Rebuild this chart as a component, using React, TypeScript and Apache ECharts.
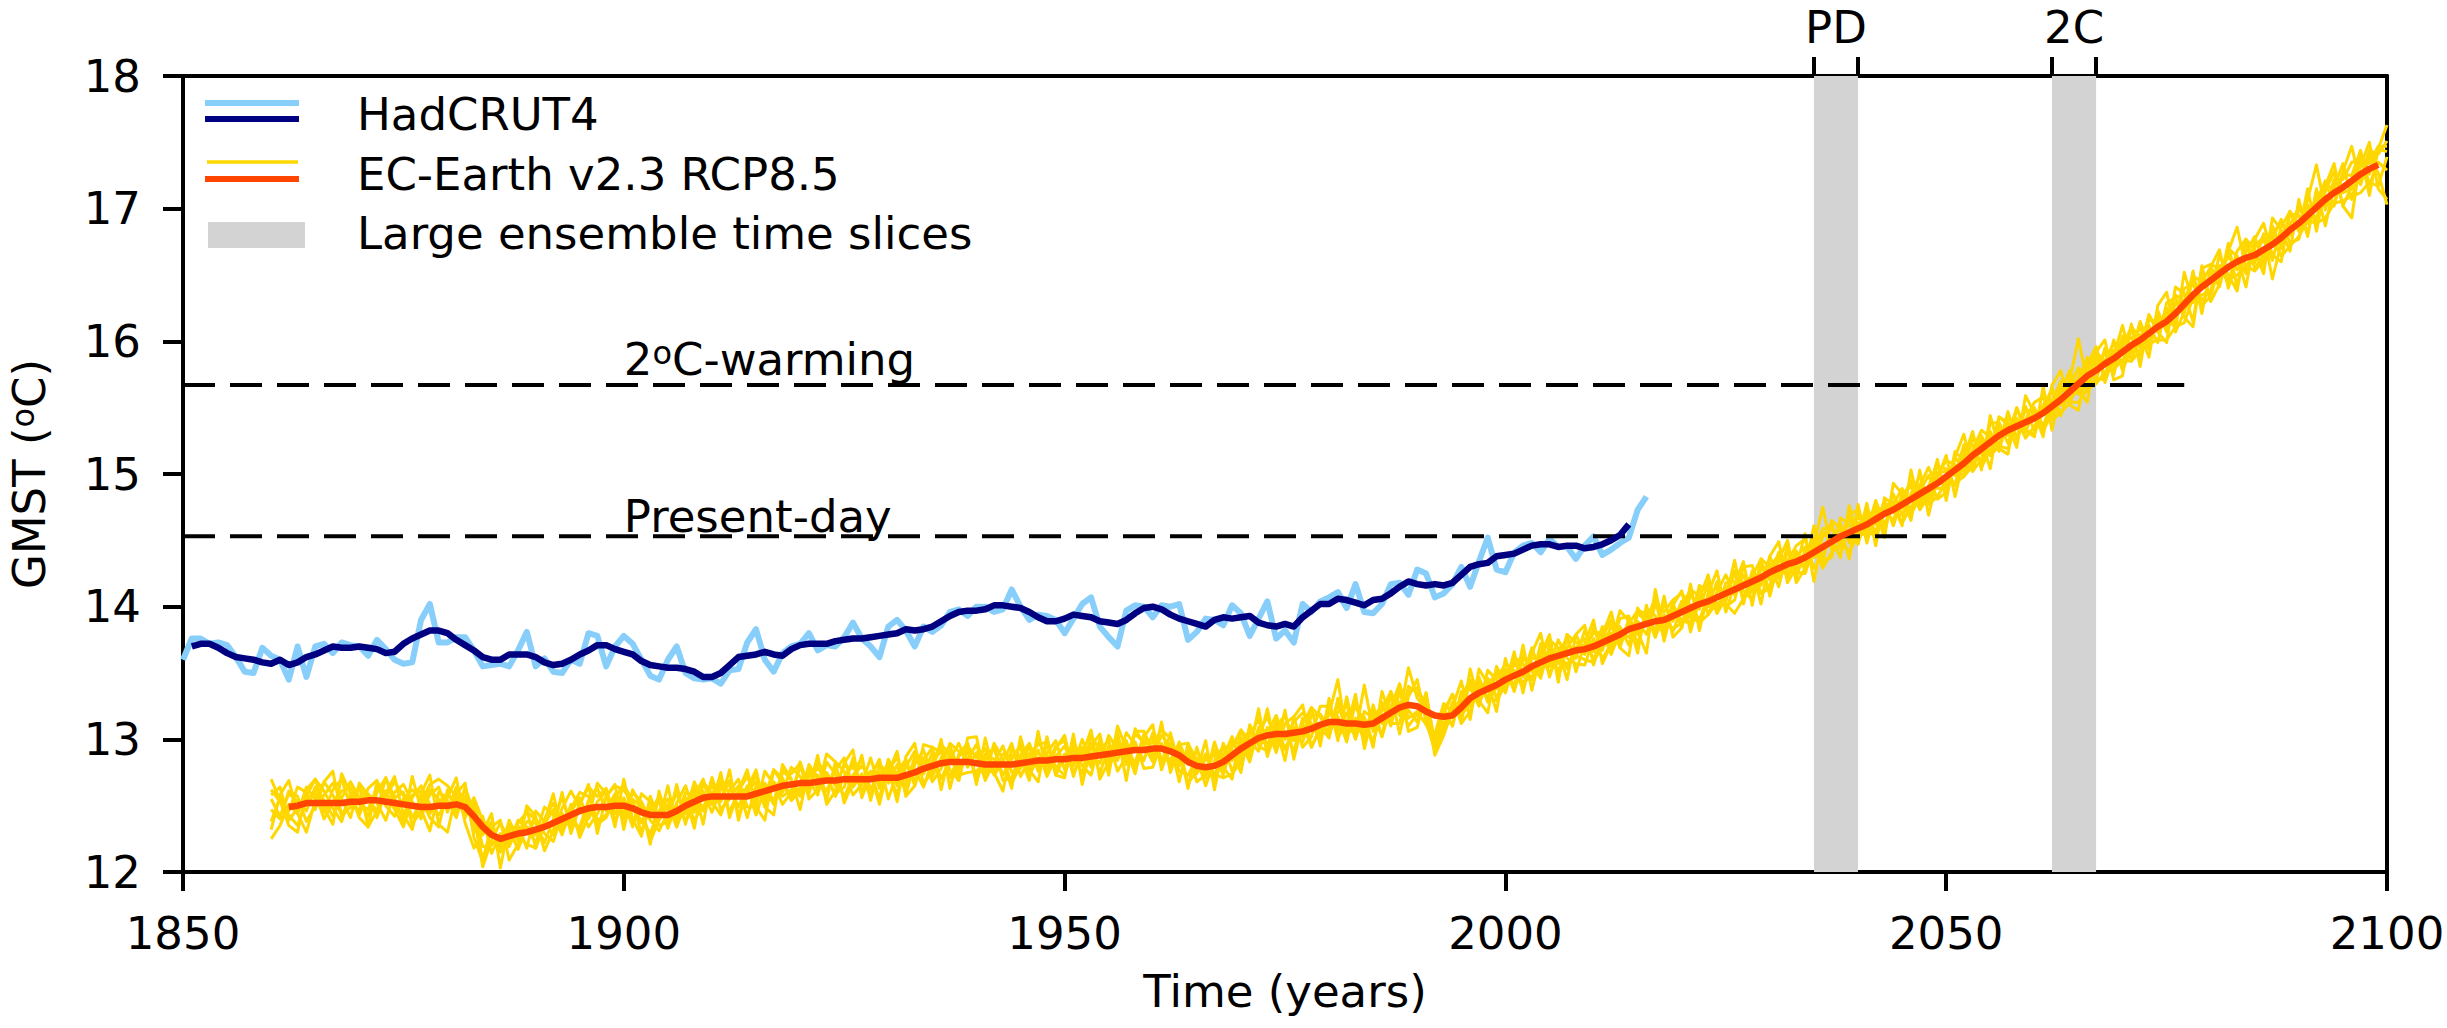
import { useEffect, useRef } from "react";
import * as echarts from "echarts";

const FONT = "DejaVu Sans";

// HadCRUT4 annual global-mean surface temperature (°C), one value per year from 1850
const hadcrutStart = 1850;
const hadcrutAnnual = [
  13.60, 13.76, 13.76, 13.72, 13.73, 13.71, 13.62, 13.51, 13.50, 13.69,
  13.63, 13.60, 13.45, 13.70, 13.47, 13.70, 13.72, 13.65, 13.73, 13.71,
  13.70, 13.63, 13.75, 13.68, 13.60, 13.57, 13.58, 13.90, 14.02, 13.73,
  13.73, 13.77, 13.77, 13.67, 13.55, 13.56, 13.57, 13.55, 13.67, 13.81,
  13.55, 13.61, 13.51, 13.50, 13.60, 13.57, 13.80, 13.78, 13.55, 13.70,
  13.78, 13.72, 13.60, 13.48, 13.45, 13.60, 13.70, 13.50, 13.46, 13.45,
  13.46, 13.42, 13.52, 13.53, 13.73, 13.83, 13.60, 13.51, 13.65, 13.70,
  13.72, 13.80, 13.67, 13.71, 13.70, 13.77, 13.88, 13.76, 13.70, 13.62,
  13.85, 13.90, 13.82, 13.70, 13.85, 13.81, 13.86, 13.96, 13.98, 13.93,
  14.00, 14.00, 13.96, 13.98, 14.13, 14.00, 13.90, 13.94, 13.93, 13.90,
  13.80, 13.91, 14.02, 14.07, 13.85, 13.77, 13.70, 13.97, 14.01, 14.00,
  13.92, 14.01, 14.00, 14.02, 13.75, 13.81, 13.91, 13.90, 13.86, 14.01,
  13.95, 13.78, 13.91, 14.04, 13.76, 13.82, 13.73, 14.02, 13.96, 14.04,
  14.07, 14.11, 13.99, 14.17, 13.96, 13.95, 14.02, 14.17, 14.18, 14.09,
  14.28, 14.25, 14.07, 14.10, 14.17, 14.30, 14.15, 14.34, 14.52, 14.28,
  14.26, 14.41, 14.46, 14.48, 14.41, 14.51, 14.45, 14.45, 14.36, 14.46,
  14.53, 14.39, 14.43, 14.48, 14.52, 14.73, 14.83,
];

// HadCRUT4 smoothed, from 1851
const hadcrutSmoothStart = 1851;
const hadcrutSmooth = [
  13.70, 13.72, 13.72, 13.69, 13.65, 13.62, 13.61, 13.60, 13.58,
  13.57, 13.60, 13.56, 13.58, 13.62, 13.64, 13.67, 13.70, 13.69, 13.69,
  13.70, 13.69, 13.68, 13.65, 13.66, 13.72, 13.76, 13.79, 13.82, 13.82,
  13.80, 13.75, 13.71, 13.67, 13.62, 13.60, 13.60, 13.64, 13.64, 13.64,
  13.62, 13.58, 13.56, 13.57, 13.60, 13.64, 13.67, 13.71, 13.71, 13.68,
  13.66, 13.64, 13.59, 13.56, 13.55, 13.54, 13.54, 13.53, 13.51, 13.47,
  13.47, 13.50, 13.56, 13.62, 13.63, 13.64, 13.66, 13.64, 13.63, 13.68,
  13.71, 13.72, 13.72, 13.72, 13.74, 13.75, 13.76, 13.76, 13.77, 13.78,
  13.79, 13.80, 13.83, 13.82, 13.83, 13.85, 13.89, 13.93, 13.96, 13.97,
  13.97, 13.98, 14.01, 14.01, 14.00, 13.99, 13.96, 13.92, 13.89, 13.89,
  13.91, 13.94, 13.93, 13.92, 13.89, 13.88, 13.87, 13.90, 13.95, 13.99,
  14.00, 13.98, 13.94, 13.91, 13.89, 13.87, 13.85, 13.90, 13.92, 13.91,
  13.92, 13.93, 13.88, 13.86, 13.85, 13.87, 13.85, 13.92, 13.97, 14.02,
  14.02, 14.06, 14.05, 14.03, 14.01, 14.05, 14.06, 14.10, 14.15, 14.19,
  14.17, 14.16, 14.17, 14.16, 14.18, 14.24, 14.30, 14.32, 14.33, 14.38,
  14.39, 14.40, 14.43, 14.46, 14.47, 14.47, 14.45, 14.46, 14.46, 14.44,
  14.45, 14.47, 14.50, 14.54, 14.62,
];

// EC-Earth v2.3 RCP8.5 ensemble mean, from 1862
const ecMeanStart = 1862;
const ecMean = [
  12.49, 12.50, 12.52, 12.52, 12.52, 12.52, 12.52, 12.53,
  12.53, 12.54, 12.54, 12.53, 12.52, 12.51, 12.50, 12.49, 12.49, 12.50,
  12.50, 12.51, 12.49, 12.42, 12.34, 12.28, 12.25, 12.27, 12.29, 12.30,
  12.32, 12.34, 12.37, 12.40, 12.43, 12.46, 12.48, 12.49, 12.49, 12.50,
  12.50, 12.48, 12.45, 12.43, 12.43, 12.43, 12.46, 12.50, 12.53, 12.56,
  12.57, 12.57, 12.57, 12.57, 12.57, 12.59, 12.61, 12.63, 12.65, 12.66,
  12.67, 12.67, 12.68, 12.69, 12.69, 12.70, 12.70, 12.70, 12.70, 12.71,
  12.71, 12.71, 12.73, 12.75, 12.78, 12.80, 12.82, 12.83, 12.83, 12.83,
  12.82, 12.81, 12.81, 12.81, 12.81, 12.82, 12.83, 12.84, 12.84, 12.85,
  12.85, 12.86, 12.86, 12.87, 12.88, 12.89, 12.90, 12.91, 12.92, 12.92,
  12.93, 12.93, 12.91, 12.88, 12.83, 12.80, 12.79, 12.80, 12.83, 12.88,
  12.93, 12.97, 13.01, 13.03, 13.04, 13.04, 13.05, 13.06, 13.08, 13.11,
  13.13, 13.13, 13.12, 13.12, 13.11, 13.12, 13.16, 13.20, 13.24, 13.26,
  13.25, 13.21, 13.18, 13.17, 13.18, 13.24, 13.31, 13.35, 13.38, 13.41,
  13.45, 13.48, 13.51, 13.55, 13.58, 13.61, 13.63, 13.65, 13.67, 13.68,
  13.70, 13.73, 13.76, 13.79, 13.83, 13.85, 13.87, 13.89, 13.90, 13.93,
  13.96, 13.99, 14.02, 14.04, 14.07, 14.10, 14.13, 14.16, 14.19, 14.22,
  14.26, 14.29, 14.32, 14.34, 14.37, 14.41, 14.45, 14.49, 14.53, 14.56,
  14.59, 14.62, 14.66, 14.70, 14.73, 14.77, 14.81, 14.85, 14.89, 14.93,
  14.98, 15.03, 15.08, 15.14, 15.19, 15.24, 15.29, 15.33, 15.36, 15.39,
  15.42, 15.46, 15.51, 15.56, 15.62, 15.68, 15.74, 15.78, 15.83, 15.87,
  15.92, 15.97, 16.01, 16.06, 16.11, 16.15, 16.21, 16.28, 16.35, 16.41,
  16.46, 16.51, 16.56, 16.60, 16.63, 16.65, 16.69, 16.73, 16.78, 16.84,
  16.89, 16.95, 17.01, 17.07, 17.12, 17.16, 17.21, 17.26, 17.30, 17.33,
];

// Individual EC-Earth ensemble members, annual from 1860 to 2100
const ecMemberStart = 1860;
const ecMember1 = [
  12.55, 12.42, 12.59, 12.53, 12.46, 12.64, 12.54, 12.42, 12.56, 12.68,
  12.56, 12.42, 12.60, 12.71, 12.50, 12.42, 12.58, 12.61, 12.44, 12.53,
  12.58, 12.53, 12.61, 12.47, 12.19, 12.20, 12.29, 12.21, 12.39, 12.33,
  12.22, 12.40, 12.52, 12.36, 12.45, 12.56, 12.40, 12.53, 12.61, 12.44,
  12.56, 12.40, 12.40, 12.29, 12.46, 12.55, 12.42, 12.60, 12.57, 12.70,
  12.51, 12.67, 12.45, 12.61, 12.72, 12.55, 12.67, 12.53, 12.77, 12.69,
  12.57, 12.81, 12.70, 12.61, 12.77, 12.86, 12.64, 12.74, 12.56, 12.81,
  12.67, 12.81, 12.59, 12.81, 12.92, 12.72, 12.86, 12.95, 12.77, 12.91,
  12.72, 12.87, 12.93, 12.73, 12.85, 12.96, 12.77, 12.92, 12.72, 12.87,
  12.95, 12.80, 13.00, 12.83, 12.94, 12.77, 12.98, 12.93, 12.82, 13.04,
  12.87, 13.03, 12.95, 12.76, 12.73, 12.86, 12.65, 12.84, 12.95, 12.84,
  13.01, 12.87, 13.05, 13.17, 12.98, 13.06, 12.91, 13.16, 13.10, 13.03,
  13.19, 13.45, 13.02, 13.16, 12.99, 13.22, 13.12, 13.32, 13.18, 13.54,
  13.31, 13.23, 12.90, 13.09, 13.28, 13.20, 13.43, 13.29, 13.46, 13.31,
  13.51, 13.40, 13.63, 13.51, 13.66, 13.49, 13.67, 13.75, 13.61, 13.82,
  13.66, 13.85, 13.68, 13.85, 13.71, 13.95, 13.89, 13.83, 14.02, 13.89,
  14.04, 13.93, 14.14, 13.94, 14.11, 14.24, 14.09, 14.24, 14.11, 14.32,
  14.20, 14.41, 14.28, 14.42, 14.27, 14.47, 14.75, 14.43, 14.63, 14.48,
  14.69, 14.56, 14.80, 14.62, 14.77, 14.89, 14.71, 14.91, 15.05, 14.89,
  14.90, 15.13, 15.02, 15.28, 15.15, 15.32, 15.17, 15.43, 15.34, 15.51,
  15.32, 15.52, 15.63, 15.52, 15.70, 16.02, 15.68, 15.88, 15.75, 15.93,
  15.84, 16.09, 15.95, 16.20, 16.07, 16.25, 16.09, 16.52, 16.29, 16.49,
  16.52, 16.41, 16.68, 16.86, 16.55, 16.71, 16.79, 16.61, 16.86, 16.98,
  16.83, 17.07, 17.33, 16.99, 17.22, 17.22, 17.35, 17.36, 17.26, 17.45,
  17.63,
];
const ecMember2 = [
  12.38, 12.56, 12.46, 12.64, 12.60, 12.47, 12.68, 12.58, 12.43, 12.55,
  12.63, 12.55, 12.46, 12.57, 12.68, 12.58, 12.36, 12.46, 12.58, 12.64,
  12.45, 12.64, 12.52, 12.40, 12.09, 12.34, 12.15, 12.39, 12.25, 12.38,
  12.37, 12.22, 12.40, 12.56, 12.37, 12.34, 12.54, 12.63, 12.46, 12.59,
  12.44, 12.60, 12.53, 12.39, 12.31, 12.45, 12.59, 12.44, 12.68, 12.54,
  12.65, 12.54, 12.69, 12.43, 12.59, 12.73, 12.53, 12.68, 12.60, 12.79,
  12.72, 12.59, 12.83, 12.73, 12.57, 12.72, 12.82, 12.60, 12.76, 12.67,
  12.83, 12.65, 12.79, 12.91, 12.74, 12.90, 12.70, 12.85, 12.97, 12.79,
  12.90, 12.69, 12.83, 12.95, 12.75, 12.78, 12.95, 12.76, 12.90, 12.99,
  12.77, 12.98, 12.84, 12.97, 12.74, 12.95, 12.84, 13.05, 12.96, 12.84,
  13.05, 12.85, 12.85, 12.94, 12.67, 12.76, 12.89, 12.72, 12.87, 13.02,
  12.81, 13.03, 13.15, 12.95, 13.14, 12.92, 13.09, 13.02, 13.24, 13.17,
  13.03, 13.21, 13.26, 13.04, 13.41, 13.06, 13.28, 13.10, 13.36, 13.22,
  13.13, 13.35, 12.96, 13.23, 13.10, 13.36, 13.25, 13.45, 13.30, 13.53,
  13.35, 13.58, 13.47, 13.69, 13.50, 13.67, 13.51, 13.69, 13.79, 13.64,
  13.84, 13.67, 13.86, 13.69, 13.91, 13.81, 13.65, 14.13, 13.82, 14.03,
  13.84, 14.09, 13.98, 14.18, 13.99, 14.12, 14.25, 14.06, 14.25, 14.16,
  14.38, 14.21, 14.46, 14.22, 14.43, 14.37, 14.53, 14.63, 14.43, 14.68,
  14.51, 14.74, 14.62, 14.80, 14.61, 14.81, 14.95, 14.77, 14.91, 15.05,
  15.04, 14.91, 15.20, 15.08, 15.29, 15.14, 15.35, 15.29, 15.50, 15.31,
  15.50, 15.36, 15.55, 15.70, 15.52, 15.74, 15.86, 15.70, 15.95, 15.81,
  16.04, 15.91, 16.15, 15.98, 16.23, 16.07, 16.29, 16.22, 16.47, 16.31,
  16.38, 16.65, 16.50, 16.38, 16.75, 16.55, 16.65, 16.87, 16.70, 16.88,
  17.01, 16.89, 17.05, 17.21, 17.02, 17.28, 17.47, 17.18, 17.40, 17.27,
  17.03,
];
const ecMember3 = [
  12.25, 12.35, 12.51, 12.44, 12.64, 12.55, 12.45, 12.62, 12.70, 12.49,
  12.47, 12.63, 12.69, 12.50, 12.42, 12.55, 12.62, 12.55, 12.41, 12.34,
  12.62, 12.45, 12.57, 12.30, 12.42, 12.14, 12.28, 12.19, 12.35, 12.18,
  12.46, 12.38, 12.28, 12.48, 12.61, 12.49, 12.34, 12.44, 12.57, 12.65,
  12.62, 12.51, 12.30, 12.49, 12.53, 12.33, 12.52, 12.65, 12.45, 12.61,
  12.45, 12.63, 12.61, 12.70, 12.49, 12.49, 12.76, 12.66, 12.51, 12.60,
  12.79, 12.69, 12.58, 12.83, 12.74, 12.56, 12.73, 12.80, 12.72, 12.85,
  12.55, 12.75, 12.85, 12.65, 12.84, 12.94, 12.90, 12.71, 12.87, 12.95,
  12.86, 12.93, 12.73, 12.83, 12.97, 12.72, 12.85, 12.98, 12.88, 12.77,
  12.89, 12.88, 12.74, 13.03, 12.92, 12.99, 12.76, 12.87, 13.04, 12.98,
  12.97, 13.07, 13.01, 12.84, 12.89, 12.68, 12.73, 12.92, 12.75, 12.94,
  13.07, 12.99, 12.91, 13.09, 12.90, 13.12, 13.17, 12.94, 13.02, 13.25,
  13.25, 13.01, 13.14, 13.24, 13.15, 12.98, 13.22, 13.36, 13.20, 13.36,
  13.39, 13.25, 12.88, 13.03, 13.22, 13.28, 13.39, 13.25, 13.52, 13.45,
  13.57, 13.50, 13.39, 13.61, 13.62, 13.75, 13.69, 13.53, 13.69, 13.76,
  13.60, 13.77, 13.90, 13.75, 13.87, 13.97, 13.95, 13.77, 13.94, 13.81,
  14.00, 14.13, 14.08, 14.00, 14.19, 14.00, 14.05, 14.30, 14.31, 14.10,
  14.16, 14.35, 14.34, 14.46, 14.51, 14.29, 14.39, 14.53, 14.59, 14.52,
  14.63, 14.64, 14.76, 14.56, 14.85, 14.69, 14.85, 14.99, 14.79, 14.99,
  15.10, 15.07, 14.98, 15.18, 15.33, 15.28, 15.21, 15.47, 15.26, 15.41,
  15.54, 15.58, 15.43, 15.62, 15.76, 15.60, 15.78, 15.92, 15.85, 15.99,
  15.96, 16.11, 16.03, 16.12, 15.99, 16.29, 16.33, 16.18, 16.11, 16.55,
  16.58, 16.55, 16.64, 16.54, 16.67, 16.79, 16.57, 16.77, 16.92, 16.74,
  16.77, 17.03, 16.91, 17.13, 17.28, 17.02, 16.93, 17.38, 17.34, 17.47,
  17.47,
];
const ecMember4 = [
  12.58, 12.64, 12.39, 12.48, 12.57, 12.70, 12.61, 12.48, 12.38, 12.60,
  12.43, 12.59, 12.52, 12.39, 12.60, 12.66, 12.53, 12.40, 12.62, 12.55,
  12.47, 12.59, 12.43, 12.52, 12.28, 12.38, 12.17, 12.32, 12.17, 12.34,
  12.28, 12.49, 12.43, 12.28, 12.48, 12.60, 12.57, 12.39, 12.43, 12.54,
  12.40, 12.55, 12.49, 12.23, 12.39, 12.51, 12.34, 12.52, 12.63, 12.46,
  12.71, 12.47, 12.55, 12.65, 12.41, 12.65, 12.57, 12.77, 12.71, 12.54,
  12.61, 12.75, 12.73, 12.54, 12.83, 12.76, 12.58, 12.66, 12.86, 12.63,
  12.77, 12.86, 12.69, 12.77, 12.64, 12.84, 12.96, 12.89, 12.73, 12.75,
  12.76, 12.83, 12.95, 12.69, 12.71, 12.88, 12.97, 12.80, 12.96, 12.79,
  12.73, 12.94, 12.92, 12.79, 13.00, 12.87, 13.04, 12.81, 12.98, 12.78,
  12.79, 12.97, 12.81, 12.98, 12.81, 12.92, 12.77, 12.70, 12.97, 12.76,
  12.89, 13.09, 12.95, 12.91, 13.10, 13.18, 12.99, 13.12, 12.94, 13.09,
  13.07, 13.17, 12.98, 13.28, 13.03, 13.26, 13.02, 13.24, 13.42, 13.16,
  13.21, 13.11, 13.00, 13.19, 13.34, 13.12, 13.21, 13.41, 13.32, 13.29,
  13.41, 13.62, 13.57, 13.45, 13.72, 13.55, 13.75, 13.61, 13.57, 13.56,
  13.76, 13.61, 13.72, 13.91, 13.93, 13.71, 13.99, 13.93, 13.78, 13.99,
  13.90, 13.87, 14.16, 14.12, 13.95, 14.18, 14.19, 14.12, 14.05, 14.28,
  14.32, 14.15, 14.42, 14.28, 14.33, 14.53, 14.35, 14.37, 14.67, 14.62,
  14.47, 14.70, 14.56, 14.76, 14.79, 14.63, 14.75, 14.87, 14.99, 14.81,
  14.86, 15.17, 15.10, 15.02, 15.11, 15.38, 15.39, 15.23, 15.42, 15.27,
  15.36, 15.48, 15.65, 15.44, 15.66, 15.80, 15.62, 15.72, 15.71, 16.01,
  15.78, 15.95, 16.11, 15.94, 16.19, 16.11, 16.15, 16.40, 16.43, 16.27,
  16.34, 16.57, 16.44, 16.68, 16.77, 16.59, 16.81, 16.47, 16.74, 16.96,
  16.95, 16.81, 17.13, 17.03, 17.04, 17.26, 17.25, 17.44, 17.18, 17.35,
  17.29,
];
const ecMember5 = [
  12.47, 12.40, 12.61, 12.57, 12.38, 12.50, 12.58, 12.67, 12.55, 12.41,
  12.67, 12.58, 12.41, 12.61, 12.47, 12.34, 12.56, 12.65, 12.51, 12.43,
  12.54, 12.41, 12.64, 12.44, 12.04, 12.24, 12.37, 12.24, 12.37, 12.45,
  12.40, 12.29, 12.23, 12.44, 12.33, 12.52, 12.64, 12.57, 12.63, 12.38,
  12.53, 12.34, 12.59, 12.53, 12.35, 12.38, 12.50, 12.38, 12.49, 12.68,
  12.59, 12.69, 12.65, 12.49, 12.65, 12.43, 12.63, 12.51, 12.75, 12.74,
  12.82, 12.55, 12.62, 12.75, 12.65, 12.80, 12.78, 12.84, 12.62, 12.75,
  12.73, 12.59, 12.81, 12.69, 12.86, 12.68, 12.78, 12.97, 12.91, 12.85,
  12.96, 12.77, 12.75, 12.89, 12.87, 12.94, 12.73, 12.86, 12.80, 12.95,
  12.99, 12.72, 12.94, 12.89, 12.82, 13.03, 12.92, 12.99, 12.78, 12.96,
  13.01, 12.81, 13.05, 12.80, 12.91, 12.74, 12.85, 12.88, 12.73, 12.98,
  12.97, 12.83, 13.09, 13.05, 13.18, 13.00, 13.13, 13.20, 13.12, 12.99,
  13.27, 13.07, 13.20, 13.00, 13.21, 13.16, 13.26, 13.12, 13.12, 13.40,
  13.35, 13.27, 12.92, 13.13, 13.12, 13.32, 13.45, 13.27, 13.42, 13.49,
  13.53, 13.36, 13.61, 13.57, 13.46, 13.71, 13.57, 13.79, 13.73, 13.70,
  13.80, 13.81, 13.64, 13.81, 13.77, 13.89, 13.79, 14.01, 13.96, 14.05,
  14.10, 14.01, 13.90, 14.08, 14.15, 14.04, 14.27, 14.18, 14.23, 14.36,
  14.30, 14.39, 14.22, 14.38, 14.45, 14.43, 14.59, 14.59, 14.49, 14.70,
  14.73, 14.52, 14.70, 14.72, 14.65, 14.85, 14.91, 14.73, 14.83, 15.01,
  15.02, 14.99, 15.22, 15.22, 15.05, 15.18, 15.43, 15.39, 15.28, 15.49,
  15.46, 15.32, 15.47, 15.66, 15.56, 15.64, 15.88, 15.82, 15.91, 15.75,
  16.00, 16.03, 15.89, 16.16, 16.15, 16.19, 16.35, 16.30, 16.49, 16.45,
  16.56, 16.45, 16.70, 16.64, 16.51, 16.73, 16.75, 16.81, 16.90, 16.80,
  16.99, 16.99, 16.93, 17.17, 17.16, 17.12, 17.15, 17.22, 17.44, 17.41,
  17.51,
];
const ecMember6 = [
  12.62, 12.53, 12.43, 12.35, 12.54, 12.60, 12.40, 12.53, 12.61, 12.64,
  12.51, 12.47, 12.64, 12.54, 12.56, 12.60, 12.41, 12.52, 12.66, 12.70,
  12.65, 12.57, 12.41, 12.56, 12.39, 12.31, 12.20, 12.37, 12.27, 12.21,
  12.18, 12.36, 12.47, 12.32, 12.40, 12.31, 12.50, 12.36, 12.41, 12.56,
  12.66, 12.53, 12.37, 12.45, 12.57, 12.47, 12.40, 12.56, 12.39, 12.50,
  12.53, 12.43, 12.62, 12.63, 12.61, 12.68, 12.49, 12.65, 12.57, 12.62,
  12.63, 12.72, 12.78, 12.71, 12.59, 12.64, 12.86, 12.58, 12.75, 12.55,
  12.85, 12.73, 12.65, 12.87, 12.76, 12.82, 12.92, 12.77, 12.69, 12.97,
  12.68, 12.89, 12.85, 12.85, 12.67, 12.80, 12.89, 12.96, 12.98, 12.73,
  12.87, 12.92, 12.80, 12.73, 12.98, 12.81, 12.96, 12.85, 13.06, 13.06,
  12.91, 12.95, 12.79, 12.96, 12.97, 12.84, 12.87, 12.74, 12.71, 12.74,
  12.83, 13.07, 12.99, 12.97, 13.02, 12.94, 13.03, 12.98, 13.18, 13.19,
  13.09, 13.27, 13.06, 13.06, 13.09, 13.18, 13.18, 13.14, 13.28, 13.10,
  13.19, 13.13, 13.04, 13.27, 13.20, 13.18, 13.27, 13.47, 13.28, 13.39,
  13.37, 13.52, 13.43, 13.47, 13.54, 13.59, 13.61, 13.57, 13.63, 13.60,
  13.58, 13.71, 13.80, 13.71, 13.85, 13.79, 13.93, 13.79, 13.92, 13.83,
  13.88, 13.93, 13.88, 13.94, 14.03, 14.02, 13.95, 14.06, 14.17, 14.10,
  14.14, 14.25, 14.26, 14.26, 14.25, 14.45, 14.29, 14.41, 14.47, 14.42,
  14.53, 14.56, 14.54, 14.74, 14.71, 14.75, 14.69, 14.83, 14.77, 14.83,
  14.94, 14.93, 14.98, 15.06, 15.21, 15.14, 15.21, 15.19, 15.38, 15.33,
  15.30, 15.48, 15.41, 15.46, 15.54, 15.54, 15.64, 15.68, 15.77, 15.79,
  15.86, 15.85, 15.93, 15.98, 16.01, 16.01, 16.11, 16.14, 16.33, 16.35,
  16.38, 16.53, 16.46, 16.50, 16.57, 16.53, 16.61, 16.79, 16.64, 16.72,
  16.79, 16.91, 16.89, 16.93, 17.04, 17.06, 17.09, 17.12, 17.20, 17.17,
  17.39,
];
const ecMember7 = [
  12.32, 12.58, 12.69, 12.44, 12.30, 12.54, 12.68, 12.76, 12.42, 12.49,
  12.65, 12.34, 12.46, 12.71, 12.56, 12.37, 12.72, 12.47, 12.31, 12.60,
  12.56, 12.71, 12.37, 12.18, 12.30, 12.44, 12.03, 12.37, 12.23, 12.48,
  12.18, 12.38, 12.59, 12.30, 12.51, 12.26, 12.42, 12.67, 12.59, 12.34,
  12.70, 12.40, 12.27, 12.57, 12.39, 12.65, 12.34, 12.56, 12.33, 12.68,
  12.51, 12.75, 12.41, 12.61, 12.77, 12.49, 12.39, 12.77, 12.67, 12.54,
  12.83, 12.63, 12.88, 12.51, 12.61, 12.82, 12.92, 12.56, 12.74, 12.51,
  12.79, 12.53, 12.87, 12.97, 12.66, 12.76, 13.00, 12.63, 12.89, 12.97,
  12.66, 13.01, 12.75, 12.61, 12.93, 12.86, 12.69, 13.06, 12.74, 12.93,
  13.03, 12.74, 12.88, 13.07, 12.70, 12.83, 13.04, 12.69, 13.08, 12.96,
  12.83, 13.13, 12.75, 12.94, 12.63, 12.94, 12.71, 12.98, 12.79, 12.70,
  13.07, 12.91, 13.23, 12.87, 13.08, 12.84, 13.17, 13.26, 12.94, 13.09,
  13.01, 13.31, 13.08, 13.34, 12.93, 13.20, 13.02, 13.36, 13.04, 13.32,
  13.45, 13.13, 12.92, 13.21, 13.34, 13.12, 13.53, 13.29, 13.20, 13.55,
  13.41, 13.66, 13.35, 13.65, 13.80, 13.47, 13.67, 13.45, 13.79, 13.86,
  13.56, 13.79, 13.96, 13.69, 13.63, 13.99, 13.89, 14.07, 13.74, 14.01,
  14.12, 13.81, 14.06, 14.24, 13.95, 14.06, 14.35, 14.02, 14.27, 14.02,
  14.38, 14.49, 14.18, 14.30, 14.55, 14.19, 14.55, 14.51, 14.37, 14.76,
  14.51, 14.78, 14.46, 14.82, 14.77, 14.61, 15.03, 14.75, 14.87, 15.11,
  14.80, 15.13, 15.30, 15.02, 15.25, 15.04, 15.43, 15.37, 15.20, 15.59,
  15.46, 15.28, 15.67, 15.78, 15.52, 15.48, 15.82, 15.96, 15.69, 15.89,
  16.12, 15.85, 16.05, 15.88, 16.27, 16.37, 16.07, 16.22, 16.53, 16.21,
  16.56, 16.69, 16.40, 16.64, 16.41, 16.77, 16.89, 16.65, 16.60, 16.98,
  16.83, 17.15, 16.83, 17.17, 17.34, 17.02, 17.17, 17.42, 17.10, 17.45,
  17.43,
];
const ecMember8 = [
  12.70, 12.54, 12.35, 12.30, 12.62, 12.70, 12.48, 12.36, 12.74, 12.59,
  12.41, 12.34, 12.68, 12.59, 12.72, 12.43, 12.32, 12.59, 12.73, 12.36,
  12.30, 12.59, 12.67, 12.26, 12.08, 12.34, 12.39, 12.09, 12.21, 12.50,
  12.42, 12.16, 12.31, 12.60, 12.29, 12.50, 12.66, 12.29, 12.57, 12.66,
  12.32, 12.62, 12.49, 12.21, 12.61, 12.37, 12.66, 12.36, 12.63, 12.36,
  12.71, 12.53, 12.77, 12.39, 12.63, 12.77, 12.49, 12.43, 12.81, 12.70,
  12.47, 12.79, 12.62, 12.89, 12.83, 12.52, 12.68, 12.88, 12.54, 12.81,
  12.75, 12.91, 12.57, 12.65, 12.96, 12.94, 12.62, 12.91, 12.69, 13.01,
  13.02, 12.71, 12.97, 12.85, 12.63, 13.02, 12.77, 12.68, 13.02, 12.73,
  12.71, 13.04, 12.66, 12.95, 13.04, 12.73, 13.10, 12.93, 12.74, 13.02,
  13.11, 12.77, 12.97, 12.68, 12.97, 12.76, 12.99, 12.62, 12.95, 12.92,
  12.75, 13.11, 12.97, 13.23, 12.92, 13.22, 12.85, 13.12, 13.24, 12.95,
  13.31, 12.99, 13.32, 13.02, 13.17, 12.94, 13.36, 13.16, 13.38, 13.06,
  13.09, 13.35, 12.96, 13.05, 13.24, 13.44, 13.15, 13.53, 13.42, 13.21,
  13.61, 13.38, 13.71, 13.37, 13.64, 13.79, 13.43, 13.79, 13.51, 13.72,
  13.90, 13.57, 13.72, 13.97, 13.89, 13.65, 14.01, 13.77, 14.08, 13.77,
  13.84, 14.17, 13.82, 14.10, 14.27, 13.96, 14.17, 14.34, 14.01, 14.36,
  14.08, 14.35, 14.50, 14.18, 14.29, 14.61, 14.33, 14.65, 14.59, 14.36,
  14.77, 14.48, 14.72, 14.52, 14.93, 14.85, 14.65, 15.03, 14.69, 14.97,
  15.14, 14.83, 15.12, 15.32, 15.03, 15.44, 15.19, 15.15, 15.50, 15.33,
  15.28, 15.66, 15.33, 15.62, 15.78, 15.64, 15.54, 15.92, 16.01, 15.71,
  15.74, 16.13, 15.81, 16.20, 16.07, 15.99, 16.41, 16.36, 16.15, 16.57,
  16.30, 16.43, 16.74, 16.40, 16.77, 16.69, 16.51, 16.93, 16.84, 16.68,
  17.07, 16.79, 17.15, 16.87, 17.16, 17.34, 17.07, 17.32, 17.50, 17.15,
  17.07,
];
const ecMembers = [
  ecMember1, ecMember2, ecMember3, ecMember4,
  ecMember5, ecMember6, ecMember7, ecMember8,
];

// Large-ensemble time slices (years) shown as shaded bands
const sliceLabels = ["PD", "2C"];
const sliceStarts = [2035, 2062];
const sliceEnds = [2040, 2067];

// Reference GMST levels (°C) drawn as dashed lines
const levelLabels = ["Present-day", "2{sup|o}C-warming"];
const levelValues = [14.53, 15.67];
const levelEnds = [2050, 2077];
const levelLabelYear = 1900;

const COLORS = {
  obsAnnual: "#87CEFA",
  obsSmooth: "#000080",
  member: "#FFD700",
  mean: "#FF4500",
  slice: "#D3D3D3",
};

const toPairs = (start: number, values: number[]) =>
  values.map((v, i) => [start + i, v]);

const text = (size = 45, lineHeight = size) => ({
  fontFamily: FONT,
  fontSize: size,
  color: "#000",
  lineHeight,
});

export default function App() {
  const ref = useRef<HTMLDivElement>(null);

  useEffect(() => {
    if (!ref.current) return;
    const chart = echarts.init(ref.current, undefined, { renderer: "svg" });

    const axisLine = { show: true, onZero: false, lineStyle: { color: "#000", width: 4 } };
    const tickStyle = { color: "#000", width: 4 };

    const memberSeries = ecMembers.map((m, idx) => ({
      type: "line",
      name: "EC-Earth v2.3 RCP8.5 member " + (idx + 1),
      data: toPairs(ecMemberStart, m),
      showSymbol: false,
      symbol: "none",
      silent: true,
      z: 2,
      lineStyle: { color: COLORS.member, width: 3, join: "round" },
      ...(idx === 0
        ? {
            markArea: {
              silent: true,
              itemStyle: { color: COLORS.slice },
              data: sliceStarts.map((s, i) => [{ xAxis: s }, { xAxis: sliceEnds[i] }]),
            },
          }
        : {}),
    }));

    const levelSeries = levelValues.map((v, i) => ({
      type: "line",
      name: levelLabels[i],
      data: [
        [1850, v],
        [levelEnds[i], v],
      ],
      showSymbol: false,
      symbol: "none",
      silent: true,
      z: 3,
      lineStyle: { color: "#000", width: 4, type: [32, 15] },
    }));

    const supRich = {
      sup: { fontFamily: FONT, fontSize: 32, lineHeight: 32, verticalAlign: "top", color: "#000" },
    };

    chart.setOption({
      animation: false,
      backgroundColor: "#fff",
      grid: {
        left: 183,
        right: 60,
        top: 76,
        bottom: 156,
        containLabel: false,
        outerBoundsMode: "none",
        outerBounds: { left: -200, right: -200, top: -200, bottom: -200 },
      },
      xAxis: [
        {
          type: "value",
          position: "bottom",
          min: 1850,
          max: 2100,
          interval: 50,
          axisLine,
          axisTick: { show: true, length: 19, lineStyle: tickStyle },
          axisLabel: { ...text(), margin: 39, formatter: (v: number) => String(v) },
          splitLine: { show: false },
          name: "Time (years)",
          nameLocation: "middle",
          nameGap: 97,
          nameTextStyle: text(),
        },
        {
          type: "value",
          position: "top",
          min: 1850,
          max: 2100,
          axisLine,
          axisTick: {
            show: true,
            length: 19,
            lineStyle: tickStyle,
            customValues: [...sliceStarts, ...sliceEnds].sort((a, b) => a - b),
          },
          axisLabel: {
            ...text(45, 36),
            margin: 31,
            customValues: sliceStarts.map((s, i) => (s + sliceEnds[i]) / 2),
            formatter: (v: number) => {
              const i = sliceStarts.findIndex((s, k) => v >= s && v <= sliceEnds[k]);
              return i >= 0 ? sliceLabels[i] : "";
            },
          },
          splitLine: { show: false },
        },
      ],
      yAxis: [
        {
          type: "value",
          position: "left",
          min: 12,
          max: 18,
          interval: 1,
          axisLine,
          axisTick: { show: true, length: 20, lineStyle: tickStyle },
          axisLabel: { ...text(), margin: 42 },
          splitLine: { show: false },
          name: "GMST ({sup|o}C)",
          nameLocation: "middle",
          nameRotate: 90,
          nameGap: 131,
          nameTextStyle: { ...text(), rich: supRich },
        },
        {
          type: "value",
          position: "right",
          min: 12,
          max: 18,
          axisLine,
          axisTick: { show: false },
          axisLabel: { show: false },
          splitLine: { show: false },
        },
      ],
      series: [
        ...memberSeries,
        {
          type: "line",
          name: "HadCRUT4",
          data: toPairs(hadcrutStart, hadcrutAnnual),
          showSymbol: false,
          symbol: "none",
          silent: true,
          z: 2,
          lineStyle: { color: COLORS.obsAnnual, width: 6, join: "round" },
        },
        ...levelSeries,
        {
          type: "line",
          name: "EC-Earth v2.3 RCP8.5",
          data: toPairs(ecMeanStart, ecMean),
          showSymbol: false,
          symbol: "none",
          silent: true,
          z: 4,
          lineStyle: { color: COLORS.mean, width: 6.5, join: "round" },
        },
        {
          type: "line",
          name: "HadCRUT4 smoothed",
          data: toPairs(hadcrutSmoothStart, hadcrutSmooth),
          showSymbol: false,
          symbol: "none",
          silent: true,
          z: 4,
          lineStyle: { color: COLORS.obsSmooth, width: 6.5, join: "round" },
        },
        {
          type: "scatter",
          name: "level labels",
          symbolSize: 0,
          silent: true,
          z: 5,
          itemStyle: { opacity: 1, color: "#000" },
          data: levelValues.map((v, i) => ({
            value: [levelLabelYear, v],
            name: levelLabels[i],
            label: { offset: [0, i === 0 ? -20 : -26] },
          })),
          label: {
            show: true,
            position: "right",
            distance: 0,
            opacity: 1,
            formatter: (p: any) => p.name,
            ...text(),
            rich: supRich,
          },
        },
      ],
      graphic: [
        {
          type: "group",
          silent: true,
          children: [
            { type: "line", shape: { x1: 205, y1: 103, x2: 299, y2: 103 }, style: { stroke: COLORS.obsAnnual, lineWidth: 6 } },
            { type: "line", shape: { x1: 205, y1: 119, x2: 299, y2: 119 }, style: { stroke: COLORS.obsSmooth, lineWidth: 6 } },
            { type: "line", shape: { x1: 207, y1: 162, x2: 298, y2: 162 }, style: { stroke: COLORS.member, lineWidth: 3.3 } },
            { type: "line", shape: { x1: 205, y1: 179, x2: 299, y2: 179 }, style: { stroke: COLORS.mean, lineWidth: 6 } },
            { type: "rect", shape: { x: 208, y: 222, width: 97, height: 26 }, style: { fill: COLORS.slice } },
            ...["HadCRUT4", "EC-Earth v2.3 RCP8.5", "Large ensemble time slices"].map((t, i) => ({
              type: "text",
              x: 357,
              y: [114, 174, 233][i],
              style: {
                text: t,
                fontFamily: FONT,
                fontSize: 45,
                fill: "#000",
                align: "left",
                verticalAlign: "middle",
                textAlign: "left",
                textVerticalAlign: "middle",
              },
            })),
          ],
        },
      ],
    });

    return () => chart.dispose();
  }, []);

  return (
    <div
      ref={ref}
      style={{ position: "absolute", left: 0, top: 0, width: 2447, height: 1028, background: "#fff" }}
    />
  );
}
